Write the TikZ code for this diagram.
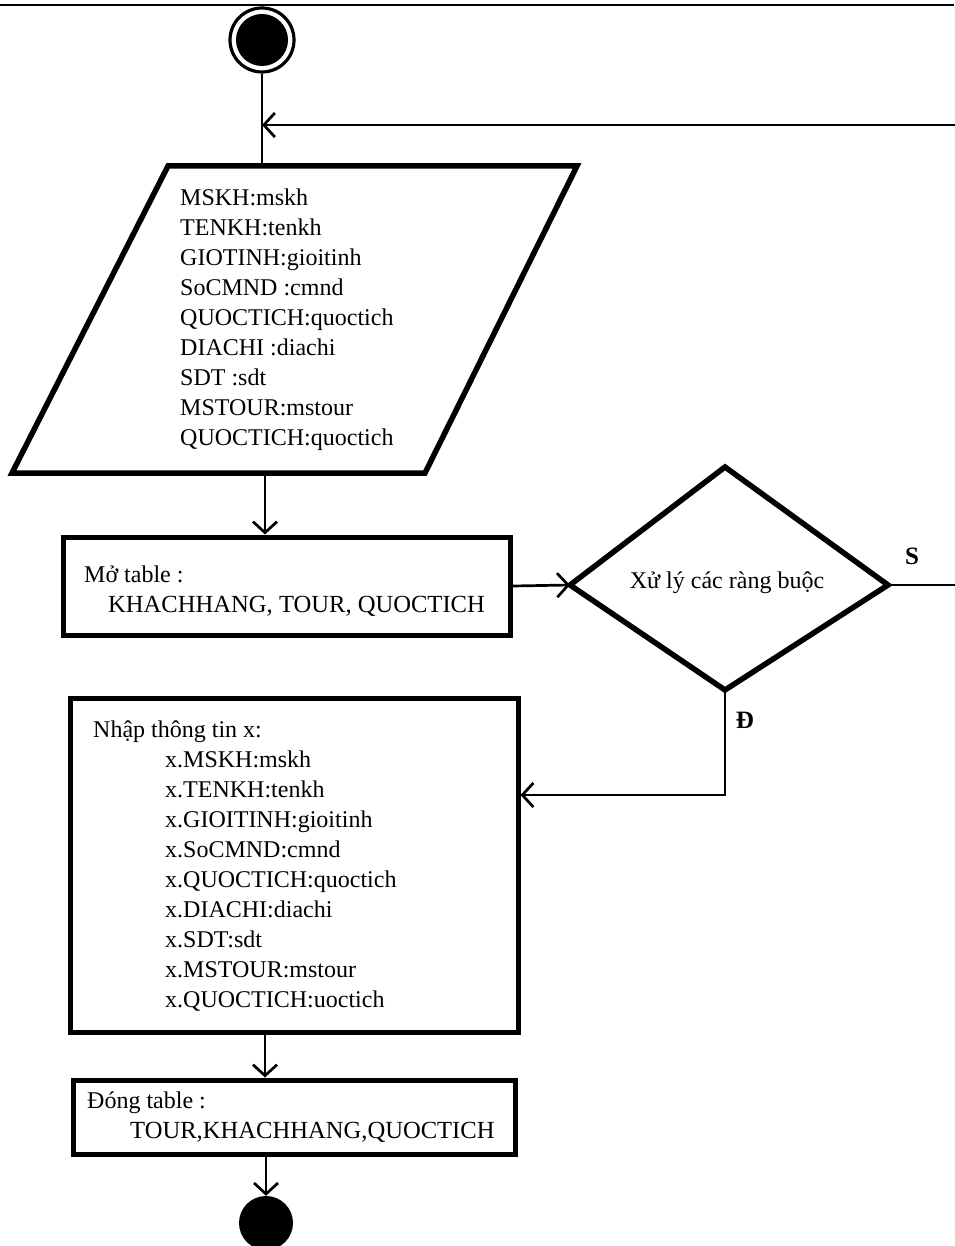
\documentclass[tikz,border=0pt]{standalone}
\usepackage{fontspec}
\setmainfont{Liberation Serif}
\usetikzlibrary{arrows.meta}
\begin{document}
\begin{tikzpicture}[x=1pt,y=-1pt,
  txt/.style={inner sep=0pt, font=\fontsize{24}{30}\selectfont, align=left},
  boxnode/.style={draw, line width=5pt, rectangle, inner sep=0pt},
  conn/.style={line width=2.7pt},
  arr/.style={conn, -{Straight Barb[length=11pt,width=24pt,line width=2.7pt]}},
  lbl/.style={inner sep=0pt, font=\fontsize{25}{28}\selectfont\bfseries}]
\useasboundingbox (0,0) rectangle (954,1246);

% frame line along the top
\coordinate (frameL) at (0,5);
\coordinate (frameR) at (954,5);
\draw[line width=2pt] (frameL) -- (frameR);

% start and end states
\node[circle, draw, line width=3.2pt, minimum size=64pt, inner sep=0pt] (start) at (262,40) {};
\node[circle, fill, minimum size=52pt, inner sep=0pt] (startdot) at (start) {};
\node[circle, fill, minimum size=54pt, inner sep=0pt] (stop) at (266,1223) {};

% input parallelogram
\coordinate (pBL) at (12,473);
\coordinate (pTL) at (168,166);
\coordinate (pTR) at (577,166);
\coordinate (pBR) at (425,473);
\coordinate (pTop) at (262,166);
\coordinate (pBot) at (265,473);
\draw[line width=5.5pt, line join=miter] (pBL) -- (pTL) -- (pTR) -- (pBR) -- cycle;
\node[txt, anchor=base west] (inputs) at (180,445)
  {MSKH:mskh\\TENKH:tenkh\\GIOTINH:gioitinh\\SoCMND :cmnd\\QUOCTICH:quoctich\\DIACHI :diachi\\SDT :sdt\\MSTOUR:mstour\\QUOCTICH:quoctich};

% open tables
\node[boxnode, minimum width=447pt, minimum height=98pt] (openbox) at (286.5,586) {};
\node[txt, anchor=base west] (opentxt) at (84,582) {Mở table :};
\node[txt, anchor=base west, font=\fontsize{24.6}{30}\selectfont] (opentbl) at (108,612) {KHACHHANG, TOUR, QUOCTICH};

% decision
\coordinate (dT) at (725,467);
\coordinate (dR) at (888,585);
\coordinate (dB) at (725,690);
\coordinate (dL) at (570,585);
\draw[line width=5.5pt, line join=miter] (dT) -- (dR) -- (dB) -- (dL) -- cycle;
\node[txt] (check) at (727,583) {Xử lý các ràng buộc};
\node[lbl] (lblS) at (912,556) {S};
\node[lbl] (lblD) at (745,720) {Đ};

% data entry
\node[boxnode, minimum width=448pt, minimum height=334pt] (nhap) at (294,865) {};
\node[txt, anchor=base west] (nhaptitle) at (93,737) {Nhập thông tin x:};
\node[txt, anchor=base west] (nhapfields) at (165,1007)
  {x.MSKH:mskh\\x.TENKH:tenkh\\x.GIOITINH:gioitinh\\x.SoCMND:cmnd\\x.QUOCTICH:quoctich\\x.DIACHI:diachi\\x.SDT:sdt\\x.MSTOUR:mstour\\x.QUOCTICH:uoctich};

% close tables
\node[boxnode, minimum width=442pt, minimum height=74pt] (dong) at (294,1117) {};
\node[txt, anchor=base west] (dongtxt) at (87,1108) {Đóng table :};
\node[txt, anchor=base west, font=\fontsize{24.6}{30}\selectfont] (dongtbl) at (130,1138) {TOUR,KHACHHANG,QUOCTICH};

% connectors
\coordinate (loopR) at (964,585);
\coordinate (loopJ) at (262,125);
\coordinate (nhY) at (0,795);
\coordinate (colX) at (265,0);
\draw[conn] (start.south) -- (pTop);
\draw[arr] (dR) -- (loopR) |- (loopJ);
\draw[arr] (pBot) -- (openbox.north -| pBot);
\draw[arr] (openbox.east) -- (dL);
\draw[arr] (dB) |- (nhap.east |- nhY);
\draw[arr] (nhap.south -| colX) -- (dong.north -| colX);
\draw[arr] (dong.south -| stop) -- (stop.north);
\end{tikzpicture}
\end{document}
